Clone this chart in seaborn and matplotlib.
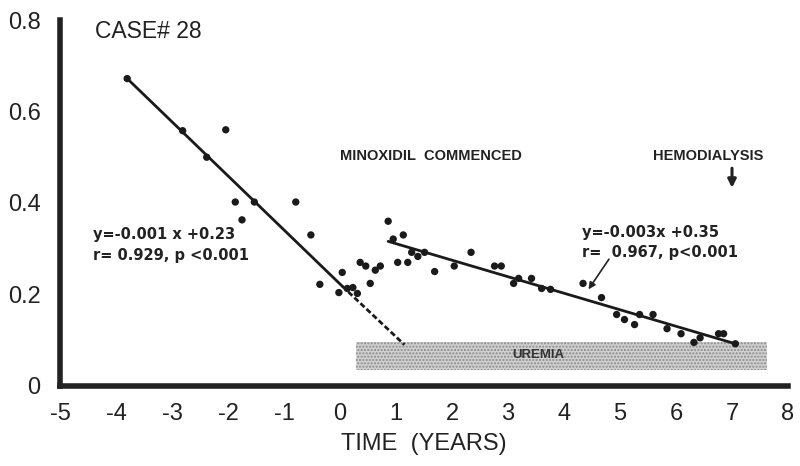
import matplotlib
matplotlib.use('Agg')
import matplotlib.pyplot as plt
import seaborn as sns
import pandas as pd

# data (time in years, value)
pre_x = [-3.80, -2.81, -2.04, -2.38, -1.87, -1.53, -1.75, -0.79, -0.52, -0.36,
         -0.02, 0.04, 0.13, 0.23, 0.31, 0.36, 0.46, 0.54, 0.63, 0.72]
pre_y = [0.672, 0.558, 0.560, 0.500, 0.402, 0.402, 0.363, 0.402, 0.330, 0.222,
         0.204, 0.248, 0.213, 0.215, 0.202, 0.270, 0.262, 0.224, 0.253, 0.262]
post_x = [0.86, 0.95, 1.13, 1.03, 1.21, 1.28, 1.39, 1.51, 1.69, 2.04, 2.34, 2.76,
          2.88, 3.10, 3.19, 3.42, 3.60, 3.76, 4.34, 4.67, 4.94, 5.08, 5.26, 5.35,
          5.59, 5.84, 6.09, 6.32, 6.43, 6.76, 6.85, 7.06]
post_y = [0.360, 0.321, 0.330, 0.270, 0.270, 0.292, 0.283, 0.292, 0.250, 0.262,
          0.292, 0.262, 0.262, 0.224, 0.235, 0.235, 0.213, 0.211, 0.224, 0.193,
          0.156, 0.145, 0.134, 0.156, 0.156, 0.125, 0.114, 0.095, 0.105, 0.114,
          0.114, 0.092]

# regression lines (end points)
fit1_x = [-3.80, 0.04]
fit1_y = [0.672, 0.218]
fit1_ext_x = [0.04, 1.15]
fit1_ext_y = [0.218, 0.090]
fit2_x = [0.86, 7.06]
fit2_y = [0.316, 0.092]

# uremia band
uremia_x = [0.29, 7.62]
uremia_lo = 0.035
uremia_hi = 0.096

x_ticks = list(range(-5, 9))
y_ticks = [0, 0.2, 0.4, 0.6, 0.8]
y_labels = ['0', '0.2', '0.4', '0.6', '0.8']

sns.set_style('white')
plt.rcParams['font.family'] = ['Liberation Sans', 'DejaVu Sans']

fig = plt.figure(figsize=(8, 4.66), dpi=100)
ax = fig.add_axes([0.075, 0.172, 0.91, 0.785])

# uremia band
ax.fill_between(uremia_x, uremia_lo, uremia_hi, facecolor='#d0d0d0',
                edgecolor='#8a8a8a', hatch='.....', linewidth=0, zorder=1)
ax.text(3.55, 0.068, 'UREMIA', fontsize=9.5, fontweight='bold', color='#333333',
        ha='center', va='center', zorder=2)

# points
df = pd.DataFrame({'t': pre_x + post_x, 'v': pre_y + post_y})
sns.scatterplot(data=df, x='t', y='v', color='#1a1a1a', s=28, edgecolor='none',
                ax=ax, zorder=4)

# fit lines
sns.lineplot(x=fit1_x, y=fit1_y, color='#1a1a1a', linewidth=2, ax=ax, zorder=3)
sns.lineplot(x=fit1_ext_x, y=fit1_ext_y, color='#1a1a1a', linewidth=2,
             linestyle=(0, (2, 1)), ax=ax, zorder=3)
sns.lineplot(x=fit2_x, y=fit2_y, color='#1a1a1a', linewidth=2, ax=ax, zorder=3)

# text
txt = dict(fontsize=10.5, fontweight='bold', color='#222222')
eq = dict(fontsize=10.5, fontweight='bold', color='#222222',
          family=['DejaVu Sans'])
ax.text(-4.38, 0.775, 'CASE# 28', fontsize=16.5, color='#222222', va='center')
ax.text(-4.41, 0.330, 'y=-0.001 x +0.23', va='center', **eq)
ax.text(-4.41, 0.284, 'r= 0.929, p <0.001', va='center', **eq)
ax.text(1.62, 0.503, 'MINOXIDIL  COMMENCED', ha='center', va='center', **txt)
ax.text(6.58, 0.503, 'HEMODIALYSIS', ha='center', va='center', **txt)
ax.text(4.32, 0.335, 'y=-0.003x +0.35', va='center', **eq)
ax.text(4.32, 0.291, 'r=  0.967, p<0.001', va='center', **eq)
ax.annotate('', xy=(4.41, 0.206), xytext=(4.83, 0.282),
            arrowprops=dict(arrowstyle='-|>', color='#222222', lw=1.2,
                            mutation_scale=10))
ax.annotate('', xy=(7.0, 0.427), xytext=(7.0, 0.482),
            arrowprops=dict(arrowstyle='-|>', color='#222222', lw=2.2,
                            mutation_scale=12))

ax.set_xlim(-5, 8)
ax.set_ylim(0, 0.8)
ax.set_xticks(x_ticks)
ax.set_xticklabels([str(t) for t in x_ticks])
ax.set_yticks(y_ticks)
ax.set_yticklabels(y_labels)
ax.set_xlabel('TIME  (YEARS)', fontsize=17, labelpad=6, color='#222222')
ax.set_ylabel('')

sns.despine(ax=ax)
for s in ['left', 'bottom']:
    ax.spines[s].set_linewidth(4)
    ax.spines[s].set_color('#222222')
ax.tick_params(axis='both', direction='in', length=5, width=1.5,
               color='#222222', labelsize=17, labelcolor='#222222')
ax.tick_params(axis='x', pad=12)
ax.tick_params(axis='y', pad=14)

fig.savefig('out.png', dpi=100)
